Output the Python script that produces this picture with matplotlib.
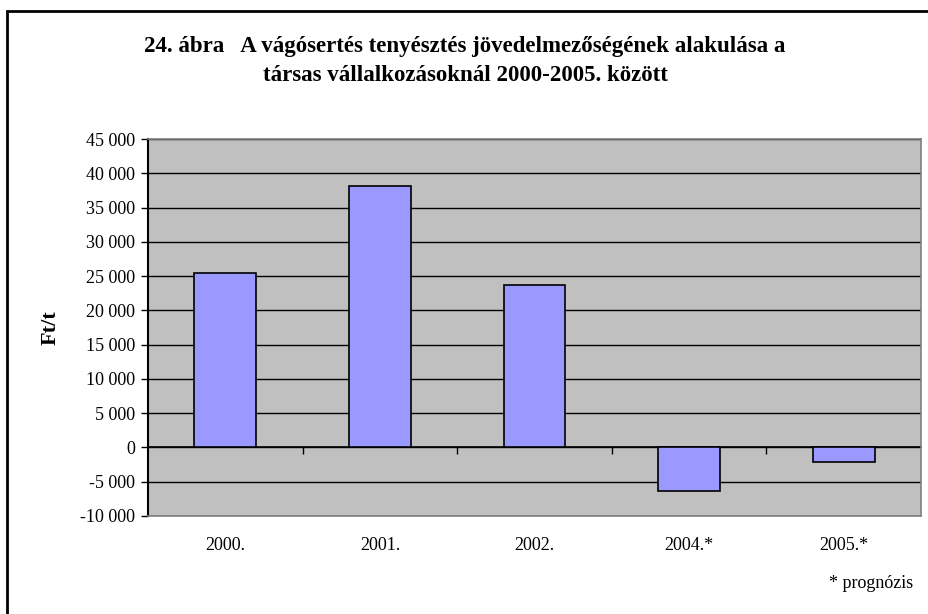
import matplotlib.pyplot as plt
from matplotlib.patches import Rectangle

# adatok
evek = ['2000.', '2001.', '2002.', '2004.*', '2005.*']
jovedelem = [25420, 38130, 23670, -6280, -2050]
y_ticks = list(range(-10000, 45001, 5000))

plt.rcParams['font.family'] = ['Liberation Serif', 'DejaVu Serif']


def fmt(v):
    return f"{v:,}".replace(',', ' ')


fig = plt.figure(figsize=(9.29, 6.14), dpi=100)
W, H = 929, 614

# keret (jobb es also oldala kilog a kepbol)
fig.patches.append(Rectangle((7 / W, -0.05), 1.0, 1 - 11 / H + 0.05,
                             transform=fig.transFigure, fill=False,
                             edgecolor='black', linewidth=2))

ax = fig.add_axes([148 / W, 1 - 516 / H, (921 - 148) / W, (516 - 139) / H])
ax.set_facecolor('#c0c0c0')

x = range(len(evek))
ax.bar(x, jovedelem, width=0.4, color='#9999ff', edgecolor='black', linewidth=1.2, zorder=3)

ax.set_xlim(-0.5, len(evek) - 0.5)
ax.set_ylim(-10000, 45000)
ax.set_yticks(y_ticks)
ax.set_yticklabels([fmt(v) for v in y_ticks], fontsize=13)
ax.yaxis.grid(True, color='black', linewidth=1, zorder=1)
ax.set_axisbelow(True)

ax.set_xticks(list(x))
ax.set_xticklabels(evek, fontsize=13)
ax.tick_params(axis='x', length=0, pad=15)
ax.tick_params(axis='y', length=5, width=1, direction='out', pad=4)

for s in ['top', 'right', 'bottom']:
    ax.spines[s].set_color('#808080')
    ax.spines[s].set_linewidth(1.2)
ax.spines['left'].set_color('black')
ax.spines['left'].set_linewidth(1.5)

# kategoria-hatarok jelolese a nulla tengelyen
zero_pos = (0 - (-10000)) / 55000
sec = ax.secondary_xaxis(zero_pos)
sec.set_xticks([i + 0.5 for i in range(len(evek) - 1)])
sec.set_xticklabels([])
sec.tick_params(axis='x', length=5, width=1, direction='out', color='black')
sec.spines['bottom'].set_color('black')
sec.spines['bottom'].set_linewidth(1.2)

ax.set_ylabel('Ft/t', fontsize=16, fontweight='bold', labelpad=14)

fig.text(465 / W, 1 - 61 / H,
         '24. ábra   A vágósertés tenyésztés jövedelmezőségének alakulása a\n'
         'társas vállalkozásoknál 2000-2005. között',
         ha='center', va='center', fontsize=16.5, fontweight='bold', linespacing=1.5)
fig.text(913 / W, 1 - 584 / H, '* prognózis', ha='right', va='center', fontsize=13)

fig.savefig('out.png', dpi=100)
